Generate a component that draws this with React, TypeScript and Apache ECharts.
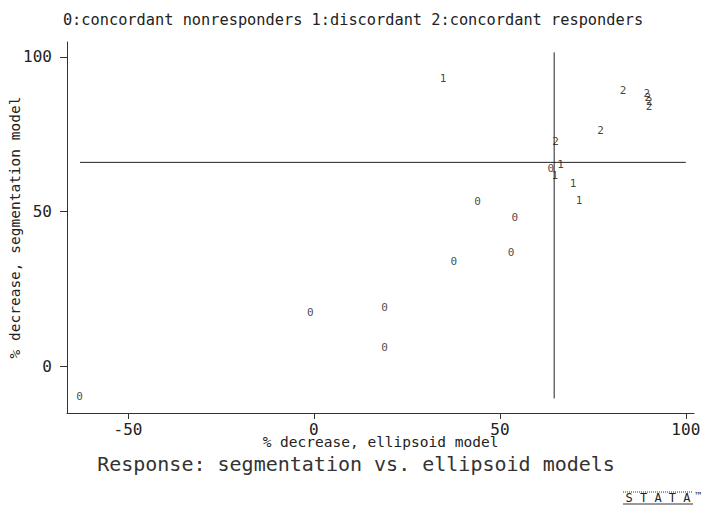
import React, { useEffect, useRef } from "react";
import * as echarts from "echarts";

const legendText = "0:concordant nonresponders 1:discordant 2:concordant responders";
const titleText = "Response: segmentation vs. ellipsoid models";
const xTitle = "% decrease, ellipsoid model";
const yTitle = "% decrease, segmentation model";

const xTicks = [-50, 0, 50, 100];
const yTicks = [0, 50, 100];

// 0: concordant nonresponders
const group0X = [-63, -1, 19, 19, 37.6, 44, 54, 53, 63.7];
const group0Y = [-10, 17.2, 19.1, 6.1, 33.7, 53.1, 47.9, 36.6, 63.8];
// 1: discordant
const group1X = [34.7, 66.3, 64.8, 69.7, 71.3];
const group1Y = [93.2, 65.3, 61.6, 59.1, 53.7];
// 2: concordant responders
const group2X = [65.0, 77.1, 83.1, 89.5, 89.8, 90.2, 90.1];
const group2Y = [72.8, 76.1, 89.3, 88.3, 87.0, 85.5, 84.1];

// reference lines
const hLineY = 65.9;
const hLineX = [-62.9, 100];
const vLineX = 64.6;
const vLineY = [-10.5, 101.5];

const MONO = "'DejaVu Sans Mono', 'Liberation Mono', monospace";

function pts(xs: number[], ys: number[]) {
  return xs.map((x, i) => [x, ys[i]]);
}

export default function App() {
  const ref = useRef<HTMLDivElement>(null);
  useEffect(() => {
    if (!ref.current) return;
    const chart = echarts.init(ref.current, undefined, { renderer: "svg" });
    const labelSeries = (name: string, xs: number[], ys: number[], txt: string) => ({
      type: "scatter",
      name,
      data: pts(xs, ys),
      symbolSize: 0.01,
      itemStyle: { color: "#111" },
      label: {
        show: true,
        position: "inside",
        formatter: txt,
        fontFamily: MONO,
        fontSize: 11,
        color: "#111",
        textBorderWidth: 0,
      },
      emphasis: { disabled: true },
    });
    const axisLineStyle = { color: "#333", width: 1 };
    chart.setOption({
      animation: false,
      backgroundColor: "#fff",
      grid: { left: 67, top: 42, width: 627, height: 371, outerBoundsMode: "none", containLabel: false },
      xAxis: {
        type: "value",
        min: -66.4,
        max: 102.2,
        splitLine: { show: false },
        axisLine: { show: true, onZero: false, lineStyle: axisLineStyle },
        axisTick: { show: true, customValues: xTicks, length: 6, lineStyle: axisLineStyle },
        axisLabel: {
          customValues: xTicks,
          fontFamily: MONO,
          fontSize: 16,
          color: "#222",
          margin: 8,
        },
        name: xTitle,
        nameLocation: "middle",
        nameGap: 21,
        nameMoveOverlap: false,
        nameTextStyle: { fontFamily: MONO, fontSize: 14.5, color: "#222" },
      },
      yAxis: {
        type: "value",
        min: -15.2,
        max: 104.85,
        splitLine: { show: false },
        axisLine: { show: true, onZero: false, lineStyle: axisLineStyle },
        axisTick: { show: true, customValues: yTicks, length: 7, lineStyle: axisLineStyle },
        axisLabel: {
          customValues: yTicks,
          fontFamily: MONO,
          fontSize: 16,
          color: "#222",
          margin: 15,
        },
        name: yTitle,
        nameLocation: "middle",
        nameGap: 45,
        nameMoveOverlap: false,
        nameTextStyle: { fontFamily: MONO, fontSize: 14.5, color: "#222" },
      },
      series: [
        {
          type: "line",
          data: [[hLineX[0], hLineY], [hLineX[1], hLineY]],
          symbol: "none",
          lineStyle: { color: "#222", width: 1 },
          silent: true,
        },
        {
          type: "line",
          data: [[vLineX, vLineY[0]], [vLineX, vLineY[1]]],
          symbol: "none",
          lineStyle: { color: "#222", width: 1 },
          silent: true,
        },
        labelSeries("0", group0X, group0Y, "0"),
        labelSeries("1", group1X, group1Y, "1"),
        labelSeries("2", group2X, group2Y, "2"),
      ],
      graphic: [
        {
          type: "text",
          x: 353,
          y: 20,
          style: {
            text: legendText,
            fontFamily: MONO,
            fontSize: 15.3,
            fill: "#222",
            align: "center",
            verticalAlign: "middle",
          },
        },
        {
          type: "text",
          x: 356,
          y: 464,
          style: {
            text: titleText,
            fontFamily: MONO,
            fontSize: 20,
            fill: "#333",
            align: "center",
            verticalAlign: "middle",
          },
        },
        {
          type: "line",
          shape: { x1: 623, y1: 492, x2: 693, y2: 492 },
          style: { stroke: "#333", lineWidth: 1, lineDash: [1, 1] },
        },
        {
          type: "text",
          x: 658,
          y: 498,
          style: {
            text: "S T A T A",
            fontFamily: MONO,
            fontSize: 12,
            fill: "#222",
            align: "center",
            verticalAlign: "middle",
          },
        },
        {
          type: "text",
          x: 698,
          y: 495,
          style: {
            text: "™",
            fontFamily: MONO,
            fontSize: 10,
            fill: "#222",
            align: "center",
            verticalAlign: "middle",
          },
        },
        {
          type: "line",
          shape: { x1: 623, y1: 504, x2: 693, y2: 504 },
          style: { stroke: "#333", lineWidth: 1 },
        },
      ],
    });
    return () => chart.dispose();
  }, []);
  return <div ref={ref} style={{ width: 711, height: 516, position: "absolute", left: 0, top: 0 }} />;
}
